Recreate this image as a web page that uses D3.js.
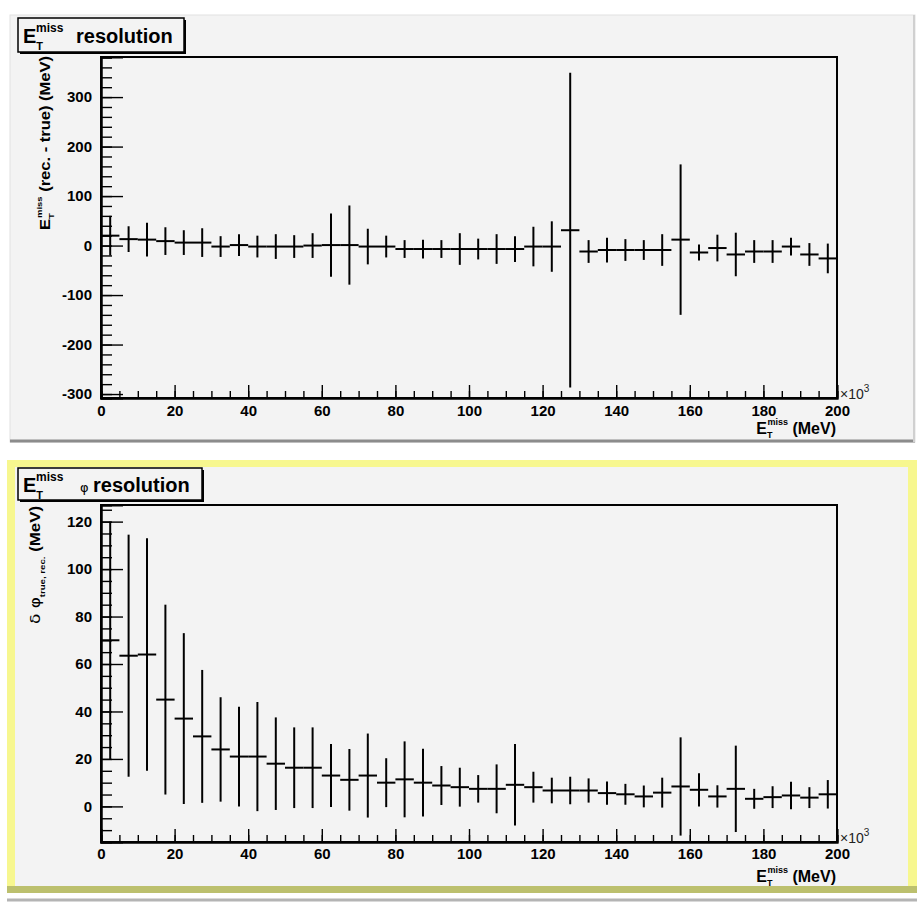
<!DOCTYPE html>
<html>
<head>
<meta charset="utf-8">
<script src="https://cdn.jsdelivr.net/npm/d3@7"></script>
<style>
  html, body { margin: 0; padding: 0; background: #ffffff; }
  svg { display: block; }
  text { font-family: "Liberation Sans", Arial, Helvetica, sans-serif; }
  .gr { font-family: "DejaVu Sans", "Noto Sans", sans-serif; }
</style>
</head>
<body>
<svg id="c" width="921" height="907"></svg>
<script>
// ---------------- data ----------------
// bin centres of the x axis (units of 10^3 MeV)
const binCenters = [2.5, 7.5, 12.5, 17.5, 22.5, 27.5, 32.5, 37.5, 42.5, 47.5,
  52.5, 57.5, 62.5, 67.5, 72.5, 77.5, 82.5, 87.5, 92.5, 97.5,
  102.5, 107.5, 112.5, 117.5, 122.5, 127.5, 132.5, 137.5, 142.5, 147.5,
  152.5, 157.5, 162.5, 167.5, 172.5, 177.5, 182.5, 187.5, 192.5, 197.5];
const binHalfWidth = 2.5;

// top panel: E_T^miss resolution (MeV)
const resMean = [20, 13, 12, 9, 6, 6, -2, 1, -2, -2,
  -2, 0, 1, 1, -2, -2, -7, -7, -7, -7,
  -7, -7, -7, -2, -2, 31, -12, -9, -9, -9,
  -9, 12, -14, -5, -18, -12, -12, -2, -18, -26];
const resErr = [40, 26, 34, 28, 25, 29, 21, 22, 22, 25,
  23, 25, 64, 80, 36, 22, 18, 19, 18, 32,
  21, 30, 26, 40, 51, 318, 23, 25, 22, 20,
  32, 152, 16, 27, 44, 23, 23, 18, 23, 30];

// bottom panel: E_T^miss phi resolution
const phiMean = [70, 63.5, 64, 45, 37, 29.5, 24, 21, 21, 18,
  16.3, 16.3, 13, 11.2, 13, 10, 11.4, 10, 8.8, 8.1,
  7.4, 7.4, 9.1, 8.1, 6.7, 6.7, 6.7, 5.6, 5.1, 4.2,
  5.8, 8.4, 7, 4.2, 7.4, 3.2, 3.9, 4.6, 3.7, 5.1];
const phiErr = [50, 51, 49, 40, 36, 28, 22, 21, 23, 19.5,
  17, 17, 13.3, 13, 17.7, 10.3, 16, 14.3, 8.2, 8.2,
  5.8, 10.3, 17.2, 6.5, 5.4, 5.8, 5.1, 4.9, 4.4, 4.6,
  6.3, 20.7, 7, 4.7, 18.2, 4.2, 4.6, 5.8, 4.4, 6];

// axis tick values
const xMajorTicks = [0, 20, 40, 60, 80, 100, 120, 140, 160, 180, 200];
const xMinorTicks = d3.range(0, 201, 5);
const resMajorTicks = [-300, -200, -100, 0, 100, 200, 300];
const resMinorTicks = d3.range(-300, 381, 20);
const phiMajorTicks = [0, 20, 40, 60, 80, 100, 120];
const phiMinorTicks = d3.range(-10, 127, 5);

// ---------------- drawing ----------------
const svg = d3.select("#c");
svg.append("rect").attr("width", 921).attr("height", 907).attr("fill", "#ffffff");
const fmt = d => String(d);   // plain hyphen-minus like the original

// pads
const padTop = svg.append("g");
padTop.append("rect").attr("x", 10).attr("y", 15).attr("width", 905).attr("height", 427)
  .attr("fill", "#f3f3f3").attr("stroke", "#e2e2e2").attr("stroke-width", 1);
padTop.append("line").attr("x1", 10).attr("x2", 915).attr("y1", 441).attr("y2", 441)
  .attr("stroke", "#8c8c8c").attr("stroke-width", 3);
padTop.append("line").attr("x1", 914).attr("x2", 914).attr("y1", 15).attr("y2", 442)
  .attr("stroke", "#d0d0d0").attr("stroke-width", 2);

const padBot = svg.append("g");
padBot.append("rect").attr("x", 7).attr("y", 460).attr("width", 910).attr("height", 433)
  .attr("fill", "#f7f78f");
padBot.append("rect").attr("x", 15).attr("y", 467).attr("width", 893).attr("height", 419)
  .attr("fill", "#f3f3f3");
padBot.append("rect").attr("x", 7).attr("y", 886).attr("width", 910).attr("height", 7)
  .attr("fill", "#bcc06e");
padBot.append("line").attr("x1", 7).attr("x2", 917).attr("y1", 900).attr("y2", 900)
  .attr("stroke", "#b4b4b4").attr("stroke-width", 3);

const x = d3.scaleLinear().domain([0, 200]).range([101, 837]);

function drawPanel(g, y, cfg) {
  const [yb, yt] = y.range();
  const x0 = x.range()[0], x1 = x.range()[1];
  const clipId = "clip" + cfg.id;
  svg.append("clipPath").attr("id", clipId).append("rect")
    .attr("x", x0).attr("y", yt).attr("width", x1 - x0).attr("height", yb - yt);

  // frame
  g.append("rect").attr("x", x0).attr("y", yt).attr("width", x1 - x0).attr("height", yb - yt)
    .attr("fill", "#f3f3f3").attr("stroke", "#000").attr("stroke-width", 2);

  const yMaj = g.append("g").attr("transform", `translate(${x0},0)`)
    .call(d3.axisLeft(y).tickValues(cfg.yMajor).tickSize(-22).tickPadding(9).tickFormat(fmt));
  const yMin = g.append("g").attr("transform", `translate(${x0},0)`)
    .call(d3.axisLeft(y).tickValues(cfg.yMinor).tickSize(-11).tickFormat(""));
  const xMaj = g.append("g").attr("transform", `translate(0,${yb})`)
    .call(d3.axisBottom(x).tickValues(xMajorTicks).tickSize(-13).tickPadding(cfg.xPad).tickFormat(fmt));
  const xMin = g.append("g").attr("transform", `translate(0,${yb})`)
    .call(d3.axisBottom(x).tickValues(xMinorTicks).tickSize(-7).tickFormat(""));
  [yMaj, yMin, xMaj, xMin].forEach(a => {
    a.select(".domain").attr("stroke", "#000").attr("stroke-width", 2);
    a.selectAll(".tick line").attr("stroke", "#000").attr("stroke-width", 1.4);
    a.selectAll("text").attr("font-family", "Liberation Sans, Arial, sans-serif")
      .attr("font-weight", "bold").attr("font-size", 15).attr("fill", "#000");
  });

  // x10^3
  const ex = g.append("text").attr("x", 840).attr("y", yb + 1).attr("font-size", 14).attr("fill", "#222");
  ex.append("tspan").text("\u00d710");
  ex.append("tspan").attr("dy", -7).attr("font-size", 10).text("3");

  // x title
  const xt = g.append("text").attr("x", 836).attr("y", yb + cfg.xTitleDy)
    .attr("text-anchor", "end").attr("font-weight", "bold").attr("font-size", 16).attr("fill", "#000");
  xt.append("tspan").text("E");
  xt.append("tspan").attr("dy", 4).attr("font-size", 9).text("T");
  xt.append("tspan").attr("dy", -13).attr("dx", -5).attr("font-size", 9).text("miss");
  xt.append("tspan").attr("dy", 9).text(" (MeV)");

  // error bars
  const gd = g.append("g").attr("clip-path", `url(#${clipId})`)
    .attr("stroke", "#000").attr("stroke-width", 2).attr("fill", "none");
  binCenters.forEach((c, i) => {
    const v = cfg.mean[i], e = cfg.err[i];
    gd.append("line").attr("x1", x(c - binHalfWidth)).attr("x2", x(c + binHalfWidth))
      .attr("y1", y(v)).attr("y2", y(v));
    gd.append("line").attr("x1", x(c)).attr("x2", x(c))
      .attr("y1", y(v - e)).attr("y2", y(v + e));
  });
}

// ---------- top panel ----------
const yRes = d3.scaleLinear().domain([-308, 381]).range([398, 57]);
const gTop = svg.append("g");
drawPanel(gTop, yRes, {id: "t", yMajor: resMajorTicks, yMinor: resMinorTicks,
  mean: resMean, err: resErr, xPad: 7, xTitleDy: 36});

gTop.append("rect").attr("x", 20).attr("y", 20).attr("width", 166).attr("height", 34).attr("fill", "#000");
gTop.append("rect").attr("x", 18).attr("y", 18).attr("width", 166).attr("height", 34)
  .attr("fill", "#f3f3f3").attr("stroke", "#000").attr("stroke-width", 1.5);
const tt = gTop.append("text").attr("x", 23).attr("y", 43).attr("font-weight", "bold").attr("font-size", 20).attr("fill", "#000");
tt.append("tspan").text("E");
tt.append("tspan").attr("dy", 7).attr("font-size", 11).text("T");
tt.append("tspan").attr("dy", -18).attr("dx", -7).attr("font-size", 12).text("miss");
tt.append("tspan").attr("x", 76).attr("dy", 11).text("resolution");

// top y title
const yt1 = gTop.append("text").attr("transform", "translate(50,230) rotate(-90)")
  .attr("font-weight", "bold").attr("font-size", 14).attr("fill", "#000")
  .attr("textLength", 174).attr("lengthAdjust", "spacingAndGlyphs");
yt1.append("tspan").text("E");
yt1.append("tspan").attr("dy", 4).attr("font-size", 8).text("T");
yt1.append("tspan").attr("dy", -12).attr("dx", -4).attr("font-size", 8).text("miss");
yt1.append("tspan").attr("dy", 8).text(" (rec. - true) (MeV)");

// ---------- bottom panel ----------
const yPhi = d3.scaleLinear().domain([-15, 127]).range([842, 505]);
const gBot = svg.append("g");
drawPanel(gBot, yPhi, {id: "b", yMajor: phiMajorTicks, yMinor: phiMinorTicks,
  mean: phiMean, err: phiErr, xPad: 6, xTitleDy: 40});

gBot.append("rect").attr("x", 20).attr("y", 470).attr("width", 184).attr("height", 32).attr("fill", "#000");
gBot.append("rect").attr("x", 18).attr("y", 468).attr("width", 184).attr("height", 32)
  .attr("fill", "#f3f3f3").attr("stroke", "#000").attr("stroke-width", 1.5);
const tb = gBot.append("text").attr("x", 23).attr("y", 492).attr("font-weight", "bold").attr("font-size", 20).attr("fill", "#000");
tb.append("tspan").text("E");
tb.append("tspan").attr("dy", 7).attr("font-size", 11).text("T");
tb.append("tspan").attr("dy", -18).attr("dx", -7).attr("font-size", 12).text("miss");
tb.append("tspan").attr("x", 80).attr("dy", 11).attr("font-size", 13).attr("font-weight", "normal")
  .attr("class", "gr").attr("fill", "#000").text("\u03c6");
tb.append("tspan").attr("x", 93).attr("dy", 0).text("resolution");

const yt2 = gBot.append("text").attr("transform", "translate(40,624) rotate(-90)")
  .attr("font-weight", "bold").attr("font-size", 14).attr("fill", "#000")
  .attr("textLength", 118).attr("lengthAdjust", "spacingAndGlyphs");
yt2.append("tspan").attr("font-weight", "normal").attr("class", "gr").attr("fill", "#000").text("\u03b4 \u03c6");
yt2.append("tspan").attr("dy", 5).attr("font-size", 8).text("true, rec.");
yt2.append("tspan").attr("dy", -5).text(" (MeV)");
</script>
</body>
</html>
